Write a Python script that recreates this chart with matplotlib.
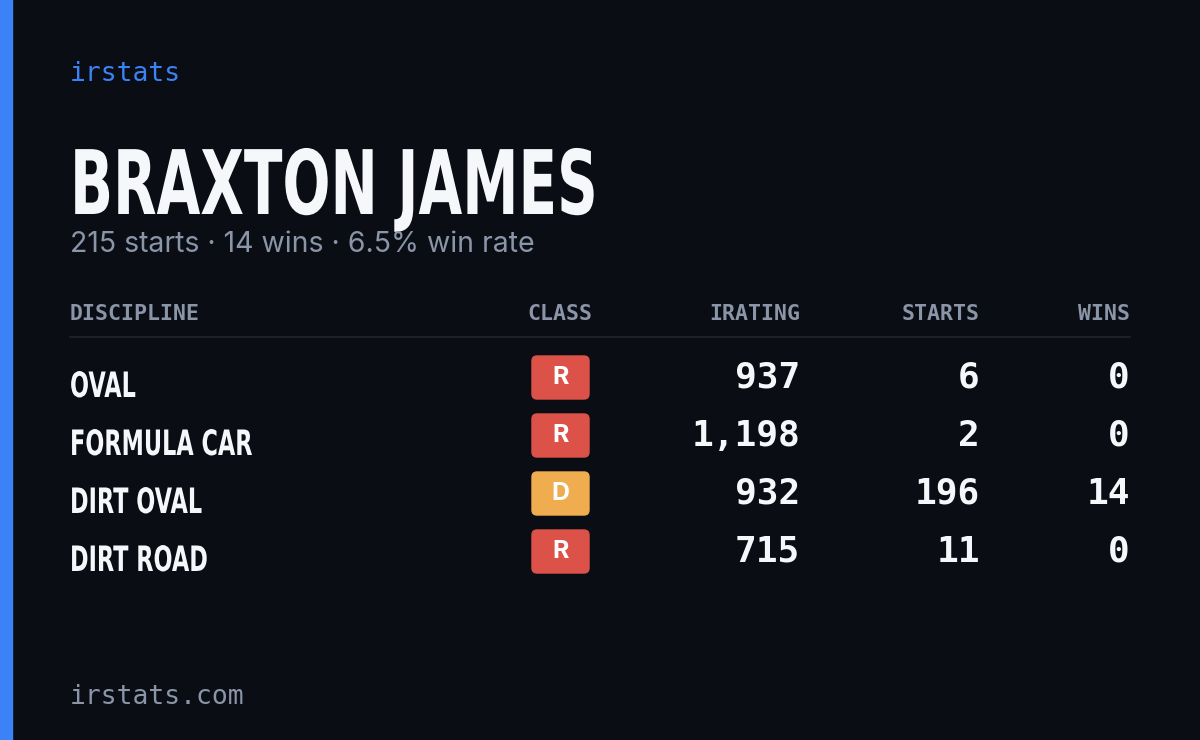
import matplotlib.pyplot as plt
from matplotlib.patches import FancyBboxPatch, Rectangle, PathPatch
from matplotlib.textpath import TextPath
from matplotlib.font_manager import FontProperties
from matplotlib.transforms import Affine2D

# datos de la tarjeta
driver = "BRAXTON JAMES"
summary = "215 starts · 14 wins · 6.5% win rate"
headers = ["DISCIPLINE", "CLASS", "IRATING", "STARTS", "WINS"]
disciplines = ["OVAL", "FORMULA CAR", "DIRT OVAL", "DIRT ROAD"]
classes = ["R", "R", "D", "R"]
iratings = [937, 1198, 932, 715]
starts = [6, 2, 196, 11]
wins = [0, 0, 14, 0]

bg = "#0a0d14"
muted = "#8b95a8"
white = "#f5f7fa"
blue = "#3b82f6"
class_colors = {"R": "#dc5249", "D": "#efad4f"}
mono = ["DejaVu Sans Mono"]
bold_fp = FontProperties(family="DejaVu Sans", weight="bold")


def narrow_text(ax, x, baseline, s, size_px, sx=0.6, color=white):
    # texto condensado: se comprime el trazado horizontalmente
    tp = TextPath((0, 0), s, size=size_px, prop=bold_fp)
    tr = Affine2D().scale(sx, -1).translate(x, baseline)
    ax.add_patch(PathPatch(tr.transform_path(tp), color=color, lw=0))


fig = plt.figure(figsize=(12, 7.4), dpi=100, facecolor=bg)
ax = fig.add_axes([0, 0, 1, 1])
ax.set_xlim(0, 1200)
ax.set_ylim(740, 0)
ax.axis("off")

ax.add_patch(Rectangle((0, 0), 12, 740, color=blue))

ax.text(70, 74, "irstats", color=blue, family=mono, fontsize=19, va="center")
narrow_text(ax, 70, 214, driver, 89, sx=0.635)
ax.text(70, 245, summary, color=muted, family=["Inter", "DejaVu Sans"],
        fontsize=20.5, va="center")

# cabecera
hx = [70, 560, 800, 980, 1130]
ha = ["left", "center", "right", "right", "right"]
for h, x, a in zip(headers, hx, ha):
    ax.text(x, 314, h, color=muted, family=mono, fontsize=15.5, fontweight="bold",
            ha=a, va="center")
ax.plot([70, 1130], [337, 337], color="#1f2430", lw=1.2)

# filas
for i, d in enumerate(disciplines):
    y = 378 + i * 58
    narrow_text(ax, 70, y + 19, d, 35, sx=0.64)
    ax.add_patch(FancyBboxPatch((532 + 5, y - 22 + 5), 57 - 10, 43 - 10,
                                boxstyle="round,pad=5",
                                color=class_colors[classes[i]]))
    ax.text(560.5, y, classes[i], color="white", fontsize=18,
            fontweight="bold", ha="center", va="center",
            family=["Inter", "DejaVu Sans"])
    for val, x in zip([iratings[i], starts[i], wins[i]], hx[2:]):
        ax.text(x, y, f"{val:,}", color=white, family=mono, fontsize=26,
                fontweight="bold", ha="right", va="center")

ax.text(70, 697, "irstats.com", color=muted, family=mono, fontsize=19,
        va="center")

fig.savefig("out.png", dpi=100, facecolor=bg)
